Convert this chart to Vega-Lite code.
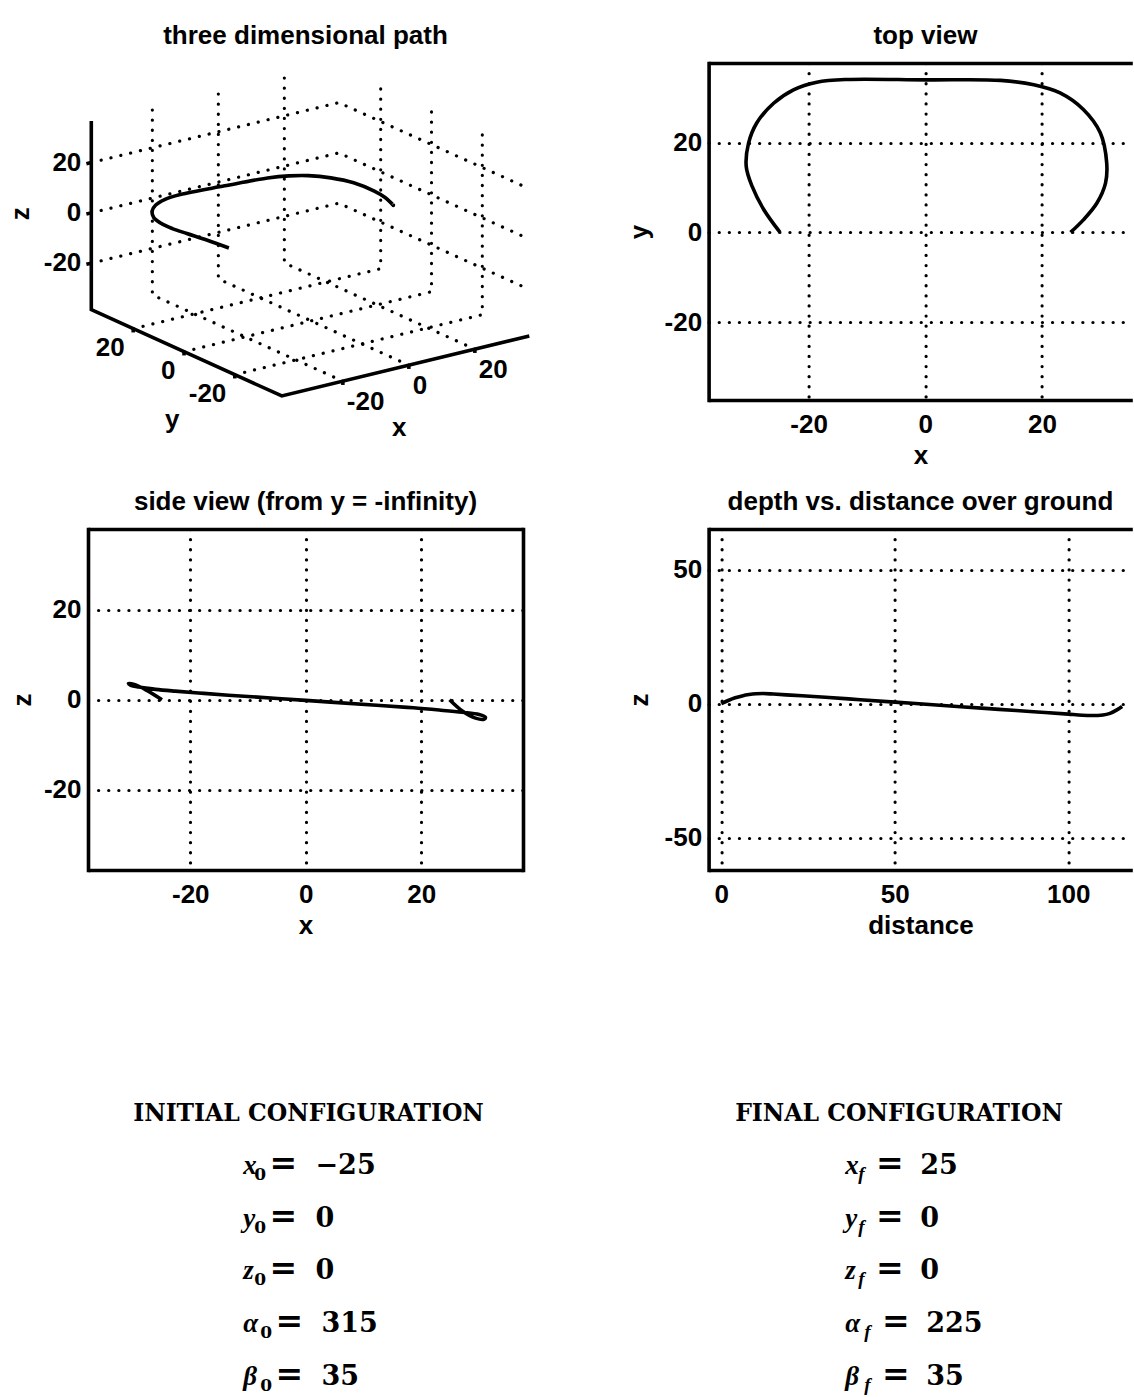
{
  "$schema": "https://vega.github.io/schema/vega-lite/v6.json",
  "background": "white",
  "padding": {"left": 8, "top": 23, "right": 0, "bottom": 0},
  "columns": 2,
  "spacing": {"row": 129, "column": 185.6},
  "bounds": "flush",
  "datasets": {
    "path": [
      {"i": 0, "x": -24.9, "y": 0, "z": 0, "u": -82.17, "v": -24.0},
      {"i": 1, "x": -27.7, "y": 5.1, "z": 2.2, "u": -104.36, "v": -16.0},
      {"i": 2, "x": -29.7, "y": 10.3, "z": 3.4, "u": -124.17, "v": -9.5},
      {"i": 3, "x": -30.7, "y": 14.7, "z": 3.6, "u": -138.65, "v": -4.5},
      {"i": 4, "x": -30.3, "y": 19.9, "z": 3.2, "u": -150.54, "v": 1.0},
      {"i": 5, "x": -28.9, "y": 24.4, "z": 2.8, "u": -157.35, "v": 6.5},
      {"i": 6, "x": -26, "y": 28.8, "z": 2.3, "u": -158.95, "v": 13.0},
      {"i": 7, "x": -22.6, "y": 31.8, "z": 1.9, "u": -155.35, "v": 19.0},
      {"i": 8, "x": -18.6, "y": 33.5, "z": 1.5, "u": -146.47, "v": 24.5},
      {"i": 9, "x": -13.4, "y": 34.1, "z": 1.0, "u": -130.83, "v": 29.5},
      {"i": 10, "x": 0, "y": 34.0, "z": -0.15, "u": -86.36, "v": 38.2},
      {"i": 11, "x": 12.9, "y": 33.9, "z": -1.3, "u": -43.54, "v": 46.04},
      {"i": 12, "x": 18.6, "y": 32.9, "z": -1.8, "u": -22.19, "v": 48.19},
      {"i": 13, "x": 23.1, "y": 31.1, "z": -2.3, "u": -2.76, "v": 48.46},
      {"i": 14, "x": 27.1, "y": 27.4, "z": -2.8, "u": 19.83, "v": 46.15},
      {"i": 15, "x": 30, "y": 22.2, "z": -3.3, "u": 42.61, "v": 41.23},
      {"i": 16, "x": 31.1, "y": 15.5, "z": -3.9, "u": 63.26, "v": 32.9},
      {"i": 17, "x": 30.9, "y": 11, "z": -4.3, "u": 74.03, "v": 26.56},
      {"i": 18, "x": 29.4, "y": 6.5, "z": -4.1, "u": 80.51, "v": 20.68},
      {"i": 19, "x": 27.1, "y": 2.8, "z": -2.5, "u": 82.32, "v": 18.61},
      {"i": 20, "x": 24.9, "y": 0, "z": 0, "u": 82.17, "v": 19.92}
    ],
    "depth": [
      {"dist": 0, "z": 0}, {"dist": 2, "z": 1.2}, {"dist": 4, "z": 2.2}, {"dist": 6, "z": 2.9},
      {"dist": 8, "z": 3.4}, {"dist": 10, "z": 3.7}, {"dist": 12, "z": 3.8}, {"dist": 15, "z": 3.6},
      {"dist": 20, "z": 3.2}, {"dist": 30, "z": 2.4}, {"dist": 40, "z": 1.5}, {"dist": 50, "z": 0.6},
      {"dist": 60, "z": -0.3}, {"dist": 70, "z": -1.2}, {"dist": 80, "z": -2.1}, {"dist": 90, "z": -3.0},
      {"dist": 100, "z": -3.9}, {"dist": 104, "z": -4.3}, {"dist": 107, "z": -4.4}, {"dist": 110, "z": -4.2},
      {"dist": 112, "z": -3.6}, {"dist": 114, "z": -2.3}, {"dist": 115.5, "z": -1.0}
    ],
    "grid3d": [
      {"g": "A1", "k": 0, "u": 31.79, "v": -157.1}, {"g": "A1", "k": 1, "u": -158.71, "v": -70.85}, {"g": "A1", "k": 2, "u": -158.71, "v": 117.77},
      {"g": "A2", "k": 0, "u": 97.79, "v": -141.1}, {"g": "A2", "k": 1, "u": -92.71, "v": -54.85}, {"g": "A2", "k": 2, "u": -92.71, "v": 133.77},
      {"g": "A3", "k": 0, "u": 163.79, "v": -125.1}, {"g": "A3", "k": 1, "u": -26.71, "v": -38.85}, {"g": "A3", "k": 2, "u": -26.71, "v": 149.77},
      {"g": "B1", "k": 0, "u": -76.25, "v": -150.63}, {"g": "B1", "k": 1, "u": 171.25, "v": -90.63}, {"g": "B1", "k": 2, "u": 171.25, "v": 98.0},
      {"g": "B2", "k": 0, "u": -127.05, "v": -127.63}, {"g": "B2", "k": 1, "u": 120.45, "v": -67.63}, {"g": "B2", "k": 2, "u": 120.45, "v": 121.0},
      {"g": "B3", "k": 0, "u": -177.85, "v": -104.63}, {"g": "B3", "k": 1, "u": 69.65, "v": -44.63}, {"g": "B3", "k": 2, "u": 69.65, "v": 144.0},
      {"g": "C1", "k": 0, "u": -219.76, "v": -39.125}, {"g": "C1", "k": 1, "u": 27.74, "v": 20.875}, {"g": "C1", "k": 2, "u": 218.24, "v": -65.375},
      {"g": "C2", "k": 0, "u": -219.76, "v": 11.175}, {"g": "C2", "k": 1, "u": 27.74, "v": 71.175}, {"g": "C2", "k": 2, "u": 218.24, "v": -15.075},
      {"g": "C3", "k": 0, "u": -219.76, "v": 61.475}, {"g": "C3", "k": 1, "u": 27.74, "v": 121.475}, {"g": "C3", "k": 2, "u": 218.24, "v": 35.225}
    ],
    "axes3d": [
      {"g": "ax", "k": 0, "u": -219.76, "v": 102.97}, {"g": "ax", "k": 1, "u": -219.76, "v": -85.65}, {"g": "ax", "k": 2, "u": -29.26, "v": -171.9}, {"g": "ax", "k": 3, "u": 218.24, "v": -111.9},
      {"g": "tz1", "k": 0, "u": -219.76, "v": -39.125}, {"g": "tz1", "k": 1, "u": -224.7, "v": -40.3},
      {"g": "tz2", "k": 0, "u": -219.76, "v": 11.175}, {"g": "tz2", "k": 1, "u": -224.7, "v": 9.98},
      {"g": "tz3", "k": 0, "u": -219.76, "v": 61.475}, {"g": "tz3", "k": 1, "u": -224.7, "v": 60.28},
      {"g": "ty1", "k": 0, "u": -177.85, "v": -104.63}, {"g": "ty1", "k": 1, "u": -177.85, "v": -108.4},
      {"g": "ty2", "k": 0, "u": -127.05, "v": -127.63}, {"g": "ty2", "k": 1, "u": -127.05, "v": -131.4},
      {"g": "ty3", "k": 0, "u": -76.25, "v": -150.63}, {"g": "ty3", "k": 1, "u": -76.25, "v": -154.4},
      {"g": "tx1", "k": 0, "u": 31.79, "v": -157.1}, {"g": "tx1", "k": 1, "u": 31.79, "v": -160.9},
      {"g": "tx2", "k": 0, "u": 97.79, "v": -141.1}, {"g": "tx2", "k": 1, "u": 97.79, "v": -144.9},
      {"g": "tx3", "k": 0, "u": 163.79, "v": -125.1}, {"g": "tx3", "k": 1, "u": 163.79, "v": -128.9}
    ],
    "labels3d": [
      {"kind": "z", "t": "20", "u": -219.76, "v": 61.475},
      {"kind": "z", "t": "0", "u": -219.76, "v": 11.175},
      {"kind": "z", "t": "-20", "u": -219.76, "v": -39.125},
      {"kind": "y", "t": "20", "u": -177.85, "v": -104.63},
      {"kind": "y", "t": "0", "u": -127.05, "v": -127.63},
      {"kind": "y", "t": "-20", "u": -76.25, "v": -150.63},
      {"kind": "x", "t": "-20", "u": 31.79, "v": -157.1},
      {"kind": "x", "t": "0", "u": 97.79, "v": -141.1},
      {"kind": "x", "t": "20", "u": 163.79, "v": -125.1},
      {"kind": "tz", "t": "z", "u": -289.76, "v": 10.35},
      {"kind": "txy", "t": "y", "u": -138.76, "v": -203.65},
      {"kind": "txy", "t": "x", "u": 88.24, "v": -211.65}
    ],
    "headL": [{"line": 0, "t": "INITIAL CONFIGURATION"}],
    "headR": [{"line": 0, "t": "FINAL CONFIGURATION"}],
    "eqL": [
      {"line": 1, "sym": "x", "sub": "0", "val": "−25", "grp": "a"},
      {"line": 2, "sym": "y", "sub": "0", "val": "0", "grp": "a"},
      {"line": 3, "sym": "z", "sub": "0", "val": "0", "grp": "a"},
      {"line": 4, "sym": "α", "sub": "0", "val": "315", "grp": "g"},
      {"line": 5, "sym": "β", "sub": "0", "val": "35", "grp": "g"}
    ],
    "eqR": [
      {"line": 1, "sym": "x", "sub": "f", "val": "25", "grp": "a"},
      {"line": 2, "sym": "y", "sub": "f", "val": "0", "grp": "a"},
      {"line": 3, "sym": "z", "sub": "f", "val": "0", "grp": "a"},
      {"line": 4, "sym": "α", "sub": "f", "val": "225", "grp": "g"},
      {"line": 5, "sym": "β", "sub": "f", "val": "35", "grp": "g"}
    ]
  },
  "concat": [
    {
      "width": 435, "height": 337,
      "title": "three dimensional path",
      "layer": [
        {"data": {"name": "grid3d"},
         "mark": {"type": "line", "color": "black", "strokeWidth": 3.2, "strokeDash": [0.1, 10], "strokeCap": "round"},
         "encoding": {
           "x": {"field": "u", "type": "quantitative", "scale": {"domain": [-223.06, 211.94], "nice": false, "zero": false}, "axis": null},
           "y": {"field": "v", "type": "quantitative", "scale": {"domain": [-175.95, 161.05], "nice": false, "zero": false}, "axis": null},
           "detail": {"field": "g"}, "order": {"field": "k"}}},
        {"data": {"name": "axes3d"},
         "mark": {"type": "line", "color": "black", "strokeWidth": 3.6, "strokeJoin": "miter"},
         "encoding": {
           "x": {"field": "u", "type": "quantitative", "scale": {"domain": [-223.06, 211.94], "nice": false, "zero": false}, "axis": null},
           "y": {"field": "v", "type": "quantitative", "scale": {"domain": [-175.95, 161.05], "nice": false, "zero": false}, "axis": null},
           "detail": {"field": "g"}, "order": {"field": "k"}}},
        {"data": {"name": "path"},
         "mark": {"type": "line", "color": "black", "strokeWidth": 3.6, "interpolate": "catmull-rom"},
         "encoding": {
           "x": {"field": "u", "type": "quantitative", "scale": {"domain": [-223.06, 211.94], "nice": false, "zero": false}, "axis": null},
           "y": {"field": "v", "type": "quantitative", "scale": {"domain": [-175.95, 161.05], "nice": false, "zero": false}, "axis": null},
           "order": {"field": "i"}}},
        {"data": {"name": "labels3d"}, "transform": [{"filter": "datum.kind === 'z'"}],
         "mark": {"type": "text", "font": "Liberation Sans", "fontWeight": "bold", "fontSize": 26, "align": "right", "baseline": "middle", "dx": -10, "color": "black"},
         "encoding": {"x": {"field": "u", "type": "quantitative"}, "y": {"field": "v", "type": "quantitative"}, "text": {"field": "t"}}},
        {"data": {"name": "labels3d"}, "transform": [{"filter": "datum.kind === 'y'"}],
         "mark": {"type": "text", "font": "Liberation Sans", "fontWeight": "bold", "fontSize": 26, "align": "right", "baseline": "middle", "dx": -8.5, "dy": 19, "color": "black"},
         "encoding": {"x": {"field": "u", "type": "quantitative"}, "y": {"field": "v", "type": "quantitative"}, "text": {"field": "t"}}},
        {"data": {"name": "labels3d"}, "transform": [{"filter": "datum.kind === 'x'"}],
         "mark": {"type": "text", "font": "Liberation Sans", "fontWeight": "bold", "fontSize": 26, "align": "left", "baseline": "middle", "dx": 4, "dy": 21, "color": "black"},
         "encoding": {"x": {"field": "u", "type": "quantitative"}, "y": {"field": "v", "type": "quantitative"}, "text": {"field": "t"}}},
        {"data": {"name": "labels3d"}, "transform": [{"filter": "datum.kind === 'tz'"}],
         "mark": {"type": "text", "font": "Liberation Sans", "fontWeight": "bold", "fontSize": 26, "align": "center", "baseline": "middle", "angle": 270, "color": "black"},
         "encoding": {"x": {"field": "u", "type": "quantitative"}, "y": {"field": "v", "type": "quantitative"}, "text": {"field": "t"}}},
        {"data": {"name": "labels3d"}, "transform": [{"filter": "datum.kind === 'txy'"}],
         "mark": {"type": "text", "font": "Liberation Sans", "fontWeight": "bold", "fontSize": 26, "align": "center", "baseline": "alphabetic", "color": "black"},
         "encoding": {"x": {"field": "u", "type": "quantitative"}, "y": {"field": "v", "type": "quantitative"}, "text": {"field": "t"}}}
      ]
    },
    {
      "width": 423.7, "height": 337,
      "title": {"text": "top view", "dx": 5},
      "data": {"name": "path"},
      "layer": [
        {"mark": {"type": "line", "color": "black", "strokeWidth": 3.6, "interpolate": "catmull-rom"},
         "encoding": {
           "x": {"field": "x", "type": "quantitative", "scale": {"domain": [-37.15, 35.49], "nice": false, "zero": false},
                 "axis": {"values": [-20, 0, 20], "title": "x", "grid": true, "labelExpr": "replace(datum.label, '−', '-')"}},
           "y": {"field": "y", "type": "quantitative", "scale": {"domain": [-37.37, 37.77], "nice": false, "zero": false},
                 "axis": {"values": [-20, 0, 20], "title": "y", "grid": true, "titlePadding": 12, "labelExpr": "replace(datum.label, '−', '-')"}},
           "order": {"field": "i"}}},
        {"mark": {"type": "line", "opacity": 0},
         "encoding": {
           "x": {"field": "x", "type": "quantitative", "axis": {"orient": "top", "labels": false, "grid": false, "ticks": false, "title": null}},
           "y": {"field": "y", "type": "quantitative", "axis": null},
           "order": {"field": "i"}}}
      ],
      "resolve": {"axis": {"x": "independent", "y": "independent"}}
    },
    {
      "width": 435, "height": 341,
      "title": "side view (from y = -infinity)",
      "data": {"name": "path"},
      "layer": [
        {"mark": {"type": "line", "color": "black", "strokeWidth": 3.6, "interpolate": "catmull-rom"},
         "encoding": {
           "x": {"field": "x", "type": "quantitative", "scale": {"domain": [-37.71, 37.61], "nice": false, "zero": false},
                 "axis": {"values": [-20, 0, 20], "title": "x", "grid": true, "labelExpr": "replace(datum.label, '−', '-')"}},
           "y": {"field": "z", "type": "quantitative", "scale": {"domain": [-37.84, 37.93], "nice": false, "zero": false},
                 "axis": {"values": [-20, 0, 20], "title": "z", "grid": true, "labelExpr": "replace(datum.label, '−', '-')"}},
           "order": {"field": "i"}}},
        {"mark": {"type": "line", "opacity": 0},
         "encoding": {
           "x": {"field": "x", "type": "quantitative", "axis": {"orient": "top", "labels": false, "grid": false, "ticks": false, "title": null}},
           "y": {"field": "z", "type": "quantitative", "axis": {"orient": "right", "labels": false, "grid": false, "ticks": false, "title": null}},
           "order": {"field": "i"}}}
      ],
      "resolve": {"axis": {"x": "independent", "y": "independent"}}
    },
    {
      "width": 423.7, "height": 341,
      "title": "depth vs. distance over ground",
      "data": {"name": "depth"},
      "layer": [
        {"mark": {"type": "line", "color": "black", "strokeWidth": 3.6, "interpolate": "monotone"},
         "encoding": {
           "x": {"field": "dist", "type": "quantitative", "scale": {"domain": [-3.66, 118.44], "nice": false, "zero": false},
                 "axis": {"values": [0, 50, 100], "title": "distance", "grid": true, "labelExpr": "replace(datum.label, '−', '-')"}},
           "y": {"field": "z", "type": "quantitative", "scale": {"domain": [-62.05, 65.19], "nice": false, "zero": false},
                 "axis": {"values": [-50, 0, 50], "title": "z", "grid": true, "titlePadding": 12, "labelExpr": "replace(datum.label, '−', '-')"}}}},
        {"mark": {"type": "line", "opacity": 0},
         "encoding": {
           "x": {"field": "dist", "type": "quantitative", "axis": {"orient": "top", "labels": false, "grid": false, "ticks": false, "title": null}},
           "y": {"field": "z", "type": "quantitative", "axis": null}}}
      ],
      "resolve": {"axis": {"x": "independent", "y": "independent"}}
    },
    {
      "width": 435, "height": 396,
      "encoding": {"y": {"field": "line", "type": "quantitative", "scale": {"domain": [-2.3226, 5.1917], "reverse": true, "nice": false, "zero": false}, "axis": null}},
      "layer": [
        {"data": {"name": "headL"},
         "mark": {"type": "text", "font": "DejaVu Serif", "fontWeight": "bold", "fontSize": 23.5, "align": "center", "baseline": "alphabetic", "dx": 3, "color": "black"},
         "encoding": {"text": {"field": "t"}}},
        {"data": {"name": "eqL"},
         "mark": {"type": "text", "font": "Liberation Serif", "fontStyle": "italic", "fontWeight": "bold", "fontSize": 27, "align": "left", "baseline": "alphabetic", "dx": -62.2, "color": "black"},
         "encoding": {"text": {"field": "sym"}}},
        {"data": {"name": "eqL"}, "transform": [{"filter": "datum.grp === 'a'"}],
         "mark": {"type": "text", "font": "DejaVu Serif", "fontWeight": "bold", "fontSize": 17, "align": "left", "baseline": "alphabetic", "dx": -51.2, "dy": 6, "color": "black"},
         "encoding": {"text": {"field": "sub"}}},
        {"data": {"name": "eqL"}, "transform": [{"filter": "datum.grp === 'g'"}],
         "mark": {"type": "text", "font": "DejaVu Serif", "fontWeight": "bold", "fontSize": 17, "align": "left", "baseline": "alphabetic", "dx": -45.2, "dy": 6, "color": "black"},
         "encoding": {"text": {"field": "sub"}}},
        {"data": {"name": "eqL"}, "transform": [{"filter": "datum.grp === 'a'"}],
         "mark": {"type": "text", "text": "=", "font": "DejaVu Serif", "fontWeight": "bold", "fontSize": 33, "align": "left", "baseline": "alphabetic", "dx": -36, "color": "black"}},
        {"data": {"name": "eqL"}, "transform": [{"filter": "datum.grp === 'g'"}],
         "mark": {"type": "text", "text": "=", "font": "DejaVu Serif", "fontWeight": "bold", "fontSize": 33, "align": "left", "baseline": "alphabetic", "dx": -30, "color": "black"}},
        {"data": {"name": "eqL"}, "transform": [{"filter": "datum.grp === 'a'"}],
         "mark": {"type": "text", "font": "DejaVu Serif", "fontWeight": "bold", "fontSize": 27, "align": "left", "baseline": "alphabetic", "dx": 10, "color": "black"},
         "encoding": {"text": {"field": "val"}}},
        {"data": {"name": "eqL"}, "transform": [{"filter": "datum.grp === 'g'"}],
         "mark": {"type": "text", "font": "DejaVu Serif", "fontWeight": "bold", "fontSize": 27, "align": "left", "baseline": "alphabetic", "dx": 16, "color": "black"},
         "encoding": {"text": {"field": "val"}}}
      ]
    },
    {
      "width": 381, "height": 396,
      "encoding": {"y": {"field": "line", "type": "quantitative", "scale": {"domain": [-2.3226, 5.1917], "reverse": true, "nice": false, "zero": false}, "axis": null}},
      "layer": [
        {"data": {"name": "headR"},
         "mark": {"type": "text", "font": "DejaVu Serif", "fontWeight": "bold", "fontSize": 23.5, "align": "center", "baseline": "alphabetic", "color": "black"},
         "encoding": {"text": {"field": "t"}}},
        {"data": {"name": "eqR"},
         "mark": {"type": "text", "font": "Liberation Serif", "fontStyle": "italic", "fontWeight": "bold", "fontSize": 27, "align": "left", "baseline": "alphabetic", "dx": -53.8, "color": "black"},
         "encoding": {"text": {"field": "sym"}}},
        {"data": {"name": "eqR"}, "transform": [{"filter": "datum.grp === 'a'"}],
         "mark": {"type": "text", "font": "Liberation Serif", "fontStyle": "italic", "fontWeight": "bold", "fontSize": 19, "align": "left", "baseline": "alphabetic", "dx": -40.8, "dy": 6, "color": "black"},
         "encoding": {"text": {"field": "sub"}}},
        {"data": {"name": "eqR"}, "transform": [{"filter": "datum.grp === 'g'"}],
         "mark": {"type": "text", "font": "Liberation Serif", "fontStyle": "italic", "fontWeight": "bold", "fontSize": 19, "align": "left", "baseline": "alphabetic", "dx": -34.8, "dy": 6, "color": "black"},
         "encoding": {"text": {"field": "sub"}}},
        {"data": {"name": "eqR"}, "transform": [{"filter": "datum.grp === 'a'"}],
         "mark": {"type": "text", "text": "=", "font": "DejaVu Serif", "fontWeight": "bold", "fontSize": 33, "align": "left", "baseline": "alphabetic", "dx": -23, "color": "black"}},
        {"data": {"name": "eqR"}, "transform": [{"filter": "datum.grp === 'g'"}],
         "mark": {"type": "text", "text": "=", "font": "DejaVu Serif", "fontWeight": "bold", "fontSize": 33, "align": "left", "baseline": "alphabetic", "dx": -17, "color": "black"}},
        {"data": {"name": "eqR"}, "transform": [{"filter": "datum.grp === 'a'"}],
         "mark": {"type": "text", "font": "DejaVu Serif", "fontWeight": "bold", "fontSize": 27, "align": "left", "baseline": "alphabetic", "dx": 21.2, "color": "black"},
         "encoding": {"text": {"field": "val"}}},
        {"data": {"name": "eqR"}, "transform": [{"filter": "datum.grp === 'g'"}],
         "mark": {"type": "text", "font": "DejaVu Serif", "fontWeight": "bold", "fontSize": 27, "align": "left", "baseline": "alphabetic", "dx": 27.2, "color": "black"},
         "encoding": {"text": {"field": "val"}}}
      ]
    }
  ],
  "config": {
    "view": {"stroke": null},
    "title": {"font": "Liberation Sans", "fontSize": 26, "fontWeight": "bold", "color": "black", "offset": 14, "anchor": "middle"},
    "axis": {
      "labelFont": "Liberation Sans", "labelFontSize": 26, "labelFontWeight": "bold", "labelColor": "black",
      "titleFont": "Liberation Sans", "titleFontSize": 26, "titleFontWeight": "bold", "titleColor": "black",
      "domainColor": "black", "domainWidth": 3.6, "ticks": false, "tickSize": 0,
      "gridColor": "black", "gridWidth": 3.2, "gridDash": [0.1, 10], "gridCap": "round", "gridOpacity": 1,
      "labelFlush": false, "labelOverlap": false
    },
    "axisX": {"domainCap": "butt", "labelPadding": 11, "titlePadding": 5},
    "axisY": {"domainCap": "square", "labelPadding": 7, "titlePadding": 8}
  }
}
